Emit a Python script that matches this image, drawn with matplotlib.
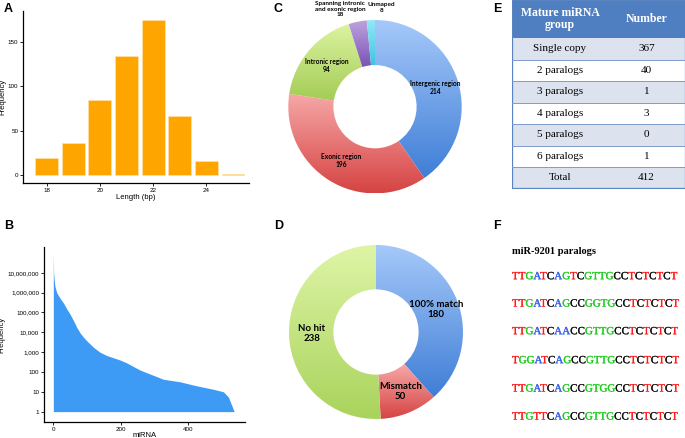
import numpy as np
import matplotlib
matplotlib.use('Agg')
import matplotlib.pyplot as plt
import matplotlib.patheffects as pe
from matplotlib.colors import LinearSegmentedColormap
from matplotlib.patches import Rectangle
from matplotlib.font_manager import FontProperties
from matplotlib.ticker import FixedLocator, FuncFormatter, NullLocator

# A: length distribution
lengths = [18, 19, 20, 21, 22, 23, 24, 25]
length_counts = [19, 36, 84, 134, 175, 67, 16, 1]

# B: read counts per miRNA (ranked)
mirna_rank = [0, 1, 3, 5, 10, 20, 30, 40, 50, 60, 70, 80, 90, 100, 120, 138, 158, 178,
              198, 217, 237, 257, 276, 326, 375, 425, 474, 504, 519, 529, 536]
mirna_freq = [9.3e7, 1.0e7, 4.0e6, 2.0e6, 1.0e6, 5.2e5, 3.0e5, 1.5e5, 8.0e4, 3.8e4,
              1.7e4, 9.0e3, 5.5e3, 3.6e3, 1.7e3, 1.0e3, 680, 520, 400, 290, 190, 125, 93,
              43, 32, 20, 13.5, 10, 5.4, 2, 1]

# C: genomic location
loc_names = ['Intergenic region', 'Exonic region', 'Intronic region',
             'Spanning intronic\nand exonic region', 'Unmaped']
loc_values = [214, 196, 94, 18, 8]
loc_colors = [('#a6c9fa', '#3f7ed6'), ('#f7a8a8', '#d64343'), ('#dcf3a0', '#a3cc55'),
              ('#bca3de', '#7b52b5'), ('#95e9f7', '#3cc6e0')]

# D: conservation
cons_names = ['100% match', 'Mismatch', 'No hit']
cons_values = [180, 50, 238]
cons_colors = [('#a6c9fa', '#3f7ed6'), ('#f7a8a8', '#d64343'), ('#def5a6', '#a9d35c')]

# E: table
groups = ['Single copy', '2 paralogs', '3 paralogs', '4 paralogs', '5 paralogs',
          '6 paralogs', 'Total']
group_numbers = [367, 40, 1, 3, 0, 1, 412]

# F: paralog sequences
seqs = ['TTGATCAGTCGTTGCCTCTCTCT',
        'TTGATCAGCCGGTGCCTCTCTCT',
        'TTGATCAACCGTTGCCTCTCTCT',
        'TGGATCAGCCGTTGCCTCTCTCT',
        'TTGATCAGCCGTGGCCTCTCTCT',
        'TTGTTCAGCCGTTGCCTCTCTCT']
seq_cols = ['RRGBRKBGRKGGGGKKRKRKRKR',
            'RRGBRKBGKKGGGGKKRKRKRKR',
            'RRGBRKBBKKGGGGKKRKRKRKR',
            'RGGBRKBGKKGGGGKKRKRKRKR',
            'RRGBRKBGKKGGGGKKRKRKRKR',
            'RRGRRKBGKKGGGGKKRKRKRKR']
base_col = {'R': '#ff1a1a', 'G': '#22cc22', 'B': '#3a63e6', 'K': '#111111'}

W, H = 685, 438
fig = plt.figure(figsize=(6.85, 4.38), dpi=100)
sans = 'Liberation Sans'
serif = 'Liberation Serif'


def box(l, t, r, b):
    return [l / W, 1 - b / H, (r - l) / W, (b - t) / H]


def style_axis(ax):
    for s in ['top', 'right']:
        ax.spines[s].set_visible(False)
    for s in ['left', 'bottom']:
        ax.spines[s].set_linewidth(0.9)
    ax.tick_params(length=2, width=0.6, labelsize=4.5, pad=1.5)
    for lab in ax.get_xticklabels() + ax.get_yticklabels():
        lab.set_family(sans)


# ---- A
axA = fig.add_axes(box(23.3, 10.7, 249, 182.7))
axA.bar(lengths, length_counts, width=0.86, color='#ffa500', edgecolor='#ffe2a8', linewidth=0.5)
axA.set_xlim(17.125, 25.6)
axA.set_ylim(-8.6, 185)
axA.set_xticks([18, 20, 22, 24])
axA.set_yticks([0, 50, 100, 150])
axA.set_xlabel('Length (bp)', fontsize=5.5, family=sans, labelpad=1)
axA.set_ylabel('Frequency', fontsize=5.5, family=sans)
axA.yaxis.set_label_coords(-0.075, 0.5)
style_axis(axA)

# ---- B
axB = fig.add_axes(box(44, 247, 245, 422))
axB.fill_between(mirna_rank, 1, mirna_freq, color='#3d9bf5', linewidth=0)
axB.set_yscale('log')
axB.set_xlim(-27.6, 568)
axB.set_ylim(0.3, 2e8)
axB.set_xticks([0, 200, 400])
axB.yaxis.set_major_locator(FixedLocator([10 ** k for k in range(8)]))
axB.yaxis.set_major_formatter(FuncFormatter(lambda v, p: '{:,.0f}'.format(v)))
axB.yaxis.set_minor_locator(NullLocator())
axB.set_xlabel('miRNA', fontsize=5.5, family=sans, labelpad=0)
axB.set_ylabel('Frequency', fontsize=5.5, family=sans)
axB.yaxis.set_label_coords(-0.19, 0.5)
style_axis(axB)


def donut(ax, values, colors, width, lim):
    wedges, _ = ax.pie(values, startangle=90, counterclock=False, radius=1,
                       wedgeprops=dict(width=width, linewidth=0))
    grad = np.linspace(0, 1, 256).reshape(-1, 1)
    for w, (c_top, c_bot) in zip(wedges, colors):
        ext = w.get_path().get_extents()
        cm = LinearSegmentedColormap.from_list('g', [c_bot, c_top])
        im = ax.imshow(grad, extent=[ext.x0, ext.x1, ext.y0, ext.y1], origin='lower',
                       cmap=cm, aspect='auto', interpolation='bilinear', zorder=1)
        im.set_clip_path(w)
        w.set_facecolor('none')
    ax.set_xlim(-lim, lim)
    ax.set_ylim(-lim, lim)
    ax.set_aspect('equal')
    ax.axis('off')
    return wedges


lab_font = dict(family=['Lato', 'DejaVu Sans'], weight='bold', ha='center', va='center',
                linespacing=1.15)

# ---- C
axC = fig.add_axes(box(275, 6.7, 475, 206.7))
wC = donut(axC, loc_values, loc_colors, 0.52, 100 / 86.7)
for i in range(3):
    w = wC[i]
    ang = np.deg2rad((w.theta1 + w.theta2) / 2)
    axC.text(0.73 * np.cos(ang), 0.73 * np.sin(ang), '%s\n%d' % (loc_names[i], loc_values[i]),
             fontsize=4.8, **lab_font)
axC.text(-0.40, 1.125, '%s\n%d' % (loc_names[3], loc_values[3]), fontsize=4.6, **lab_font)
axC.text(0.07, 1.145, '%s\n%d' % (loc_names[4], loc_values[4]), fontsize=4.6, **lab_font)

# ---- D
axD = fig.add_axes(box(276, 232, 476, 432))
wD = donut(axD, cons_values, cons_colors, 0.51, 100 / 87)
for i, w in enumerate(wD):
    ang = np.deg2rad((w.theta1 + w.theta2) / 2)
    axD.text(0.74 * np.cos(ang), 0.74 * np.sin(ang), '%s\n%d' % (cons_names[i], cons_values[i]),
             fontsize=7, **lab_font)

# ---- E table
axE = fig.add_axes(box(512, 0, 685, 188.5))
axE.set_xlim(0, 173)
axE.set_ylim(188.5, 0)
axE.axis('off')
head_h, row_h, split = 38, 21.5, 96
axE.add_patch(Rectangle((0, 0), 173, head_h, facecolor='#4f7fc1', edgecolor='none'))
axE.text(split / 2, head_h / 2, 'Mature miRNA\ngroup', color='white', fontsize=8.5,
         family=serif, weight='bold', ha='center', va='center', linespacing=1.1)
axE.text((split + 173) / 2, head_h / 2, 'Number', color='white', fontsize=8.5,
         family=serif, weight='bold', ha='center', va='center')
for i, (g, n) in enumerate(zip(groups, group_numbers)):
    y0 = head_h + i * row_h
    fc = '#dde3ee' if i % 2 == 0 else 'white'
    axE.add_patch(Rectangle((0, y0), 173, row_h, facecolor=fc, edgecolor='none'))
    axE.plot([0, 173], [y0 + row_h, y0 + row_h], color='#7d9ccc', lw=0.7)
    axE.text(split / 2, y0 + row_h / 2, g, fontsize=8, family=serif, ha='center', va='center')
    axE.text((split + 173) / 2, y0 + row_h / 2, str(n), fontsize=8, family=serif,
             ha='center', va='center')
axE.add_patch(Rectangle((0.4, 0.2), 172.2, 188, facecolor='none', edgecolor='#5a83c2', lw=0.9))

# ---- F sequences
fig.text(512 / W, 1 - 252 / H, 'miR-9201 paralogs', fontsize=7.5, family=serif,
         weight='bold', ha='left', va='center')
renderer = fig.canvas.get_renderer()
seq_prop = FontProperties(family=serif, size=7.9)


def text_w(s):
    return renderer.get_text_width_height_descent(s, seq_prop, ismath=False)[0]


row_y = [276.7, 304, 331.7, 360.7, 389, 417]
for seq, cols, y in zip(seqs, seq_cols, row_y):
    for i, (ch, c) in enumerate(zip(seq, cols)):
        x = 512 if i == 0 else 512 + text_w(seq[:i + 1]) - text_w(ch)
        fig.text(x / W, 1 - y / H, ch, color=base_col[c], fontproperties=seq_prop,
                 ha='left', va='center',
                 path_effects=[pe.withStroke(linewidth=0.2, foreground=base_col[c])])

# panel letters
for letter, (px, py) in zip('ABCDEF', [(8.5, 9), (8.5, 226.5), (278.5, 9),
                                      (278.5, 226.5), (497, 9), (497, 226.5)]):
    fig.text(px / W, 1 - py / H, letter, fontsize=9, family=sans, weight='bold',
             ha='center', va='center')

fig.savefig('out.png', dpi=100)
